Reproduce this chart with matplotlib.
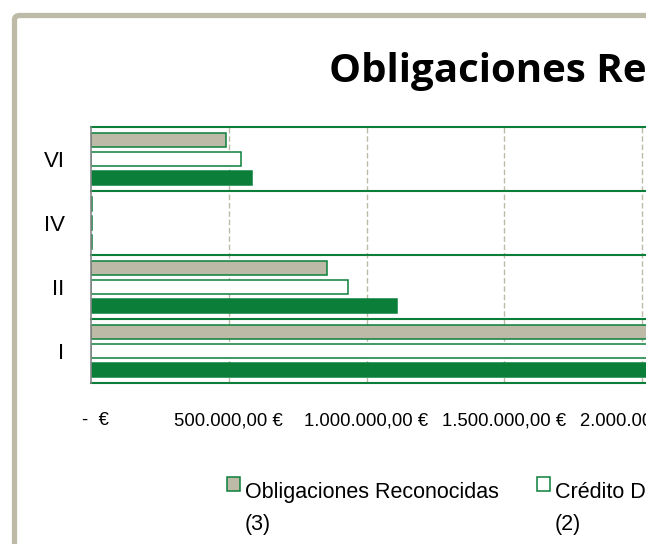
import matplotlib
matplotlib.use('Agg')
import matplotlib.pyplot as plt
from matplotlib.patches import FancyBboxPatch, Rectangle
from matplotlib.transforms import ScaledTranslation
import numpy as np

# datos (capítulos de gasto)
capitulos = ['I', 'II', 'IV', 'VI']
obligaciones = [2550000, 858000, 3000, 490000]     # Obligaciones Reconocidas (3)
credito_def = [2750000, 933000, 3000, 546000]      # Crédito Definitivo (2)
credito_ini = [2850000, 1110000, 4000, 586000]     # Crédito Inicial (1)
ticks_x = [0, 500000, 1000000, 1500000, 2000000, 2500000, 3000000]
series = ['Obligaciones Reconocidas\n(3)', 'Crédito Definitivo\n(2)', 'Crédito Inicial\n(1)']

verde = '#0B7F3A'
gris = '#BDBBA8'

W, H = 646, 544
fig = plt.figure(figsize=(W / 100, H / 100), dpi=100)

# marco del gráfico
marco = FancyBboxPatch((14.5 / W, -100 / H), 800 / W, (H + 100 - 15.5) / H,
                       boxstyle='round,pad=0,rounding_size=0.008',
                       transform=fig.transFigure, facecolor='white',
                       edgecolor=gris, linewidth=3.8, zorder=-1)
fig.patches.append(marco)

escala = 137.75 / 500000  # px por euro
ancho = 3000000 * escala
ax = fig.add_axes([91 / W, 1 - 383 / H, ancho / W, 256 / H])
ax.set_zorder(1)
ax.set_facecolor('none')

y = np.arange(len(capitulos))
alto = 0.23
ax.barh(y + 0.298, obligaciones, height=alto, color=gris, edgecolor=verde, linewidth=1.1, zorder=3)
ax.barh(y, credito_def, height=alto, color='white', edgecolor=verde, linewidth=1.1, zorder=3)
ax.barh(y - 0.298, credito_ini, height=alto, color=verde, edgecolor=verde, linewidth=1.1, zorder=3)

ax.set_ylim(-0.5, len(capitulos) - 0.5)
ax.set_xlim(0, 3000000)

# lineas de separacion entre categorias
for b in np.arange(-0.5, len(capitulos), 1.0):
    ax.axhline(b, color=verde, linewidth=1.5, zorder=2, clip_on=False)

# cuadricula vertical
for t in ticks_x[1:]:
    ax.axvline(t, color=gris, linewidth=1.0, linestyle=(0, (4, 2)), zorder=1)

def euros(v):
    if v == 0:
        return '-  €'
    s = '{:,.2f}'.format(v).replace(',', 'X').replace('.', ',').replace('X', '.')
    return s + ' €'

ax.set_xticks(ticks_x)
ax.set_xticklabels([euros(v) for v in ticks_x], fontsize=13.3, family='Liberation Sans')
ax.set_yticks(y)
ax.set_yticklabels(capitulos, fontsize=16, family='Liberation Sans')
ax.tick_params(axis='x', length=0, pad=21)
ax.tick_params(axis='y', length=0, pad=19)

# la etiqueta del cero va algo mas a la derecha
lbl0 = ax.get_xticklabels()[0]
lbl0.set_transform(lbl0.get_transform() + ScaledTranslation(0.04, 0, fig.dpi_scale_trans))

for s in ['top', 'right', 'bottom']:
    ax.spines[s].set_visible(False)
ax.spines['left'].set_color('#868686')
ax.spines['left'].set_linewidth(1.2)
ax.spines['left'].set_zorder(4)

# titulo
fig.text(329 / W, 1 - 82 / H, 'Obligaciones Reconocidas por Capítulos',
         fontsize=29, fontweight='bold', family='Open Sans', va='baseline', ha='left')

# leyenda
colores = [gris, 'white', verde]
pos_x = [227, 537, 847]
for nombre, c, px in zip(series, colores, pos_x):
    fig.patches.append(Rectangle((px / W, 1 - 491 / H), 13 / W, 14 / H,
                                 transform=fig.transFigure, facecolor=c,
                                 edgecolor=verde, linewidth=1.1))
    fig.text((px + 18) / W, 1 - 482 / H, nombre, fontsize=15.5,
             family='Liberation Sans', va='top', ha='left', linespacing=1.7)

fig.savefig('out.png', dpi=100)
